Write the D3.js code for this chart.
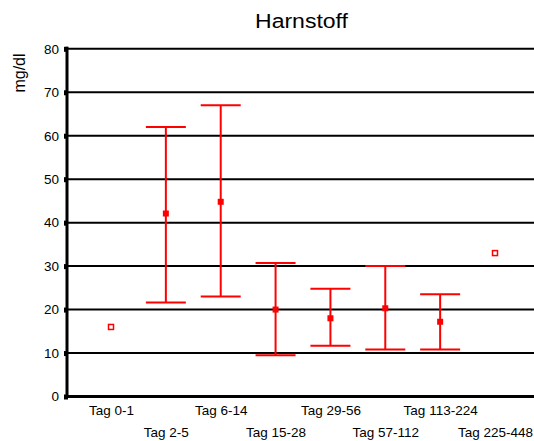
<!DOCTYPE html>
<html><head><meta charset="utf-8">
<script src="https://cdn.jsdelivr.net/npm/d3@7"></script>
<style>body{margin:0;background:#fff}svg{display:block}text{font-family:"Liberation Sans",Arial,sans-serif}</style>
</head><body>
<svg id="c" width="534" height="441"></svg>
<script>
const categories = ["Tag 0-1","Tag 2-5","Tag 6-14","Tag 15-28","Tag 29-56","Tag 57-112","Tag 113-224","Tag 225-448"];
const means = [16, 42.1, 44.8, 20, 18, 20.3, 17.2, 33];
const upper = [null, 62, 67, 30.7, 24.8, 30, 23.5, null];
const lower = [null, 21.6, 23, 9.5, 11.7, 10.8, 10.8, null];
const yTicks = [0,10,20,30,40,50,60,70,80];

const svg = d3.select("#c");
const x = d3.scalePoint().domain(categories).range([111, 495]);
const y = d3.scaleLinear().domain([0,80]).range([396.5, 48.8]);
const x0 = 67, x1 = 534;

// gridlines
svg.append("g").selectAll("line").data(yTicks.filter(t=>t>0)).join("line")
  .attr("x1", x0).attr("x2", x1).attr("y1", d=>y(d)).attr("y2", d=>y(d))
  .attr("stroke","#000").attr("stroke-width",2);

// y axis
const ya = svg.append("g").attr("transform",`translate(${x0},0)`)
  .call(d3.axisLeft(y).tickValues(yTicks).tickSize(0).tickPadding(8));
ya.select(".domain").remove();
ya.selectAll("text").attr("font-size",13.5).attr("fill","#000").attr("font-family","Liberation Sans, Arial, sans-serif");
ya.selectAll(".tick").append("rect").attr("x",-3).attr("y",-2.5).attr("width",4).attr("height",5).attr("fill","#000");
svg.append("line").attr("x1",x0).attr("x2",x0).attr("y1",y(80)-2).attr("y2",y(0)+1.5).attr("stroke","#000").attr("stroke-width",3);
svg.append("line").attr("x1",x0-1.5).attr("x2",x1).attr("y1",y(0)).attr("y2",y(0)).attr("stroke","#000").attr("stroke-width",3);

// x labels
const xa = svg.append("g").attr("transform",`translate(0,${y(0)})`)
  .call(d3.axisBottom(x).tickSize(0).tickPadding(0));
xa.select(".domain").remove();
xa.selectAll("text").attr("font-size",13.5).attr("fill","#000").attr("font-family","Liberation Sans, Arial, sans-serif")
  .attr("dy", (d,i)=> i%2===0 ? 18 : 40).attr("y",0);

// error bars
const g = svg.append("g");
categories.forEach((c,i)=>{
  const cx = x(c);
  if (upper[i]!=null && lower[i]!=null) {
    g.append("line").attr("x1",cx).attr("x2",cx).attr("y1",y(upper[i])).attr("y2",y(lower[i])).attr("stroke","#f00").attr("stroke-width",2);
    [upper[i], lower[i]].forEach(v=>{
      g.append("line").attr("x1",cx-20).attr("x2",cx+20).attr("y1",y(v)).attr("y2",y(v)).attr("stroke","#f00").attr("stroke-width",2);
    });
    g.append("rect").attr("x",cx-3).attr("y",y(means[i])-3).attr("width",6).attr("height",6).attr("fill","#f00");
  } else {
    g.append("rect").attr("x",cx-2.5).attr("y",y(means[i])-2.5).attr("width",5).attr("height",5).attr("fill","#fff").attr("stroke","#f00").attr("stroke-width",1.5);
  }
});

// title and axis label
svg.append("text").attr("x",301.5).attr("y",28).attr("text-anchor","middle").attr("font-size",20)
  .attr("textLength",93).attr("lengthAdjust","spacingAndGlyphs").text("Harnstoff");
svg.append("text").attr("transform","translate(25,73) rotate(-90)").attr("text-anchor","middle").attr("font-size",16).text("mg/dl");
</script>
</body></html>
